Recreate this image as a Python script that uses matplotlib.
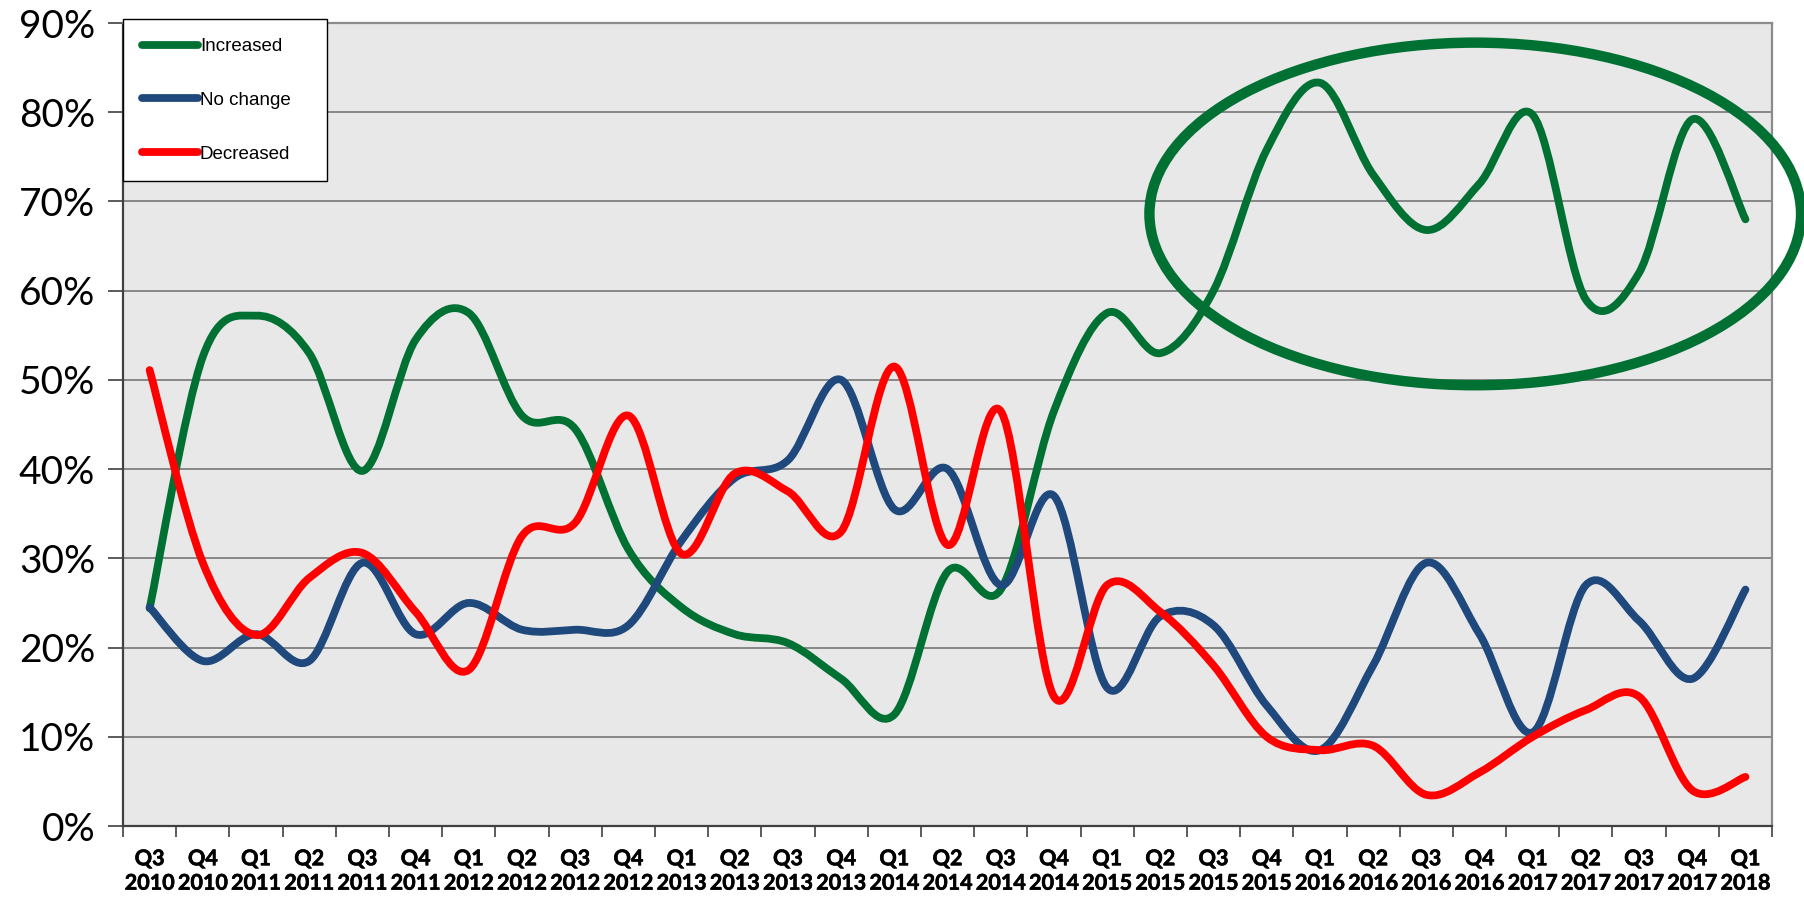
import matplotlib
matplotlib.use('Agg')
import matplotlib.pyplot as plt
import matplotlib.patheffects as pe
import numpy as np
from matplotlib.path import Path
from matplotlib.patches import PathPatch, Ellipse
from matplotlib.lines import Line2D
from matplotlib.ticker import FixedLocator, FuncFormatter

quarters = ['Q3', 'Q4', 'Q1', 'Q2', 'Q3', 'Q4', 'Q1', 'Q2', 'Q3', 'Q4', 'Q1', 'Q2', 'Q3', 'Q4',
            'Q1', 'Q2', 'Q3', 'Q4', 'Q1', 'Q2', 'Q3', 'Q4', 'Q1', 'Q2', 'Q3', 'Q4', 'Q1', 'Q2',
            'Q3', 'Q4', 'Q1']
years = ['2010', '2010', '2011', '2011', '2011', '2011', '2012', '2012', '2012', '2012',
         '2013', '2013', '2013', '2013', '2014', '2014', '2014', '2014', '2015', '2015',
         '2015', '2015', '2016', '2016', '2016', '2016', '2017', '2017', '2017', '2017', '2018']

increased = [24.4, 52.6, 57.2, 53.0, 39.8, 54.5, 57.5, 46.0, 44.5, 31.0, 24.5, 21.5, 20.5,
             16.5, 12.5, 28.5, 26.5, 46.5, 57.5, 53.0, 60.0, 75.8, 83.3, 73.0, 66.8, 72.0,
             79.7, 59.0, 62.0, 79.2, 68.0]
no_change = [24.5, 18.5, 21.5, 18.5, 29.5, 21.5, 25.0, 22.0, 22.0, 22.5, 32.0, 39.0, 41.0,
             50.0, 35.5, 40.0, 27.0, 37.0, 15.5, 23.5, 22.5, 13.5, 8.5, 18.0, 29.5, 21.5,
             10.5, 27.0, 23.0, 16.5, 26.5]
decreased = [51.1, 29.5, 21.4, 27.8, 30.6, 24.0, 17.5, 32.5, 34.0, 46.0, 30.5, 39.5, 37.5,
             33.0, 51.5, 31.5, 46.5, 14.5, 27.0, 24.0, 18.0, 10.0, 8.5, 9.0, 3.5, 6.0,
             10.0, 13.0, 14.5, 4.0, 5.5]

series = [('Increased', increased, '#007033'),
          ('No change', no_change, '#1F497D'),
          ('Decreased', decreased, '#FF0000')]


def smooth_path(x, y):
    # bezier segments like a spreadsheet "smoothed line"
    x = np.asarray(x, float)
    y = np.asarray(y, float)
    n = len(x)
    verts = [(x[0], y[0])]
    codes = [Path.MOVETO]
    for i in range(n - 1):
        p0 = np.array([x[max(i - 1, 0)], y[max(i - 1, 0)]])
        p1 = np.array([x[i], y[i]])
        p2 = np.array([x[i + 1], y[i + 1]])
        p3 = np.array([x[min(i + 2, n - 1)], y[min(i + 2, n - 1)]])
        c1 = p1 + (p2 - p0) / 6.0
        c2 = p2 - (p3 - p1) / 6.0
        verts += [tuple(c1), tuple(c2), tuple(p2)]
        codes += [Path.CURVE4] * 3
    return Path(verts, codes)


fig = plt.figure(figsize=(18.04, 8.99), dpi=100)
ax = fig.add_axes([0.0682, 0.0812, 0.9141, 0.8932])
ax.set_facecolor('#E8E8E8')

xs = np.arange(len(quarters))
for name, vals, col in series:
    pp = PathPatch(smooth_path(xs, vals), facecolor='none', edgecolor=col, lw=5.6,
                   capstyle='round', joinstyle='round', zorder=3)
    ax.add_patch(pp)

# highlight ring around the recent "increased" readings
ring = Ellipse((24.92, 68.6), 12.25, 38.4, facecolor='none', edgecolor='#007033',
               lw=7.5, zorder=4, clip_on=False)
ax.add_patch(ring)

ax.set_xlim(-0.5, len(quarters) - 0.5)
ax.set_ylim(0, 90)

ax.yaxis.set_major_locator(FixedLocator(np.arange(0, 91, 10)))
ax.yaxis.set_major_formatter(FuncFormatter(lambda v, p: '%d%%' % v))
ax.grid(axis='y', color='#7F7F7F', lw=1.3, zorder=1)
ax.set_axisbelow(True)

ax.xaxis.set_major_locator(FixedLocator(xs))
ax.set_xticklabels([q + '\n' + y for q, y in zip(quarters, years)])
ax.xaxis.set_minor_locator(FixedLocator(np.arange(-0.5, len(quarters), 1.0)))
ax.tick_params(axis='x', which='major', length=0, pad=16)
ax.tick_params(axis='x', which='minor', length=8, width=1.2, color='#404040', direction='out')
ax.tick_params(axis='y', which='major', length=11, width=1.2, color='#404040', pad=9)

for lab in ax.get_xticklabels():
    lab.set_family(['Lato', 'DejaVu Sans'])
    lab.set_fontweight('bold')
    lab.set_fontsize(15.5)
    lab.set_linespacing(1.2)
    lab.set_path_effects([pe.withStroke(linewidth=0.45, foreground='black')])
for lab in ax.get_yticklabels():
    lab.set_family(['Lato', 'DejaVu Sans'])
    lab.set_fontsize(28)

ax.spines['left'].set_color('#404040')
ax.spines['bottom'].set_color('#404040')
ax.spines['top'].set_color('#8C8C8C')
ax.spines['right'].set_color('#8C8C8C')
for s in ax.spines.values():
    s.set_linewidth(1.6)

handles = [Line2D([], [], color=c, lw=5.6, solid_capstyle='round') for _, _, c in series]
leg = ax.legend(handles, [s[0] for s in series], loc='upper left',
                bbox_to_anchor=(0.0, 1.0044, 0.1237, 0.0), mode='expand',
                borderaxespad=0, fancybox=False, framealpha=1, edgecolor='black',
                handlelength=3.0, handletextpad=0.1, labelspacing=1.95, borderpad=1.0,
                prop={'family': 'Liberation Sans', 'size': 13.5})
leg.get_frame().set_linewidth(1.0)
leg.set_zorder(5)

fig.savefig('out.png', dpi=100)
